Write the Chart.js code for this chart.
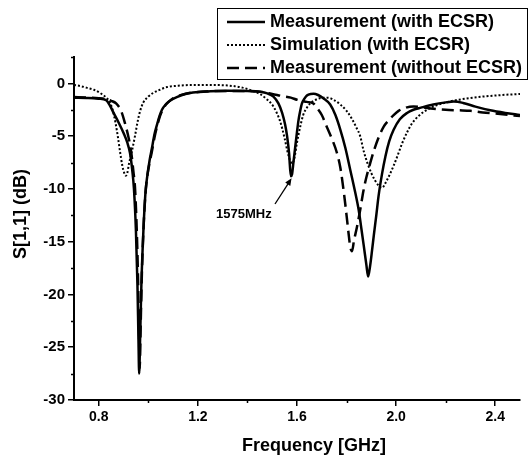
<!DOCTYPE html>
<html><head><meta charset="utf-8">
<script src="https://cdn.jsdelivr.net/npm/chart.js@4/dist/chart.umd.min.js"></script>
<style>html,body{margin:0;padding:0;background:#fff}#c{display:block}</style>
</head><body>
<canvas id="c" width="530" height="457"></canvas>
<script>
// ---- data ----
const seriesLabels = ['Measurement (with ECSR)', 'Simulation (with ECSR)', 'Measurement (without ECSR)'];

const freqMeasECSR = [0.70,0.75,0.80,0.83,0.845,0.86,0.88,0.90,0.915,0.926,0.935,0.942,0.950,0.956,0.960,0.963,0.967,0.972,0.980,0.988,0.994,1.005,1.014,1.025,1.034,1.045,1.055,1.07,1.09,1.115,1.15,1.18,1.25,1.32,1.40,1.45,1.48,1.505,1.525,1.540,1.552,1.560,1.568,1.575,1.580,1.586,1.593,1.600,1.606,1.613,1.620,1.630,1.640,1.655,1.667,1.685,1.706,1.734,1.755,1.775,1.795,1.815,1.832,1.849,1.860,1.869,1.880,1.887,1.895,1.903,1.910,1.920,1.929,1.943,1.957,1.972,1.990,2.015,2.044,2.070,2.10,2.15,2.20,2.233,2.27,2.32,2.38,2.44,2.50];
const dbMeasECSR   = [-1.35,-1.38,-1.45,-1.6,-2.1,-2.8,-3.7,-4.7,-5.6,-6.6,-8.2,-10.0,-14,-19,-24,-27.5,-24,-19,-14,-10.5,-9.1,-7.3,-6.2,-4.8,-4.0,-3.1,-2.5,-2.0,-1.6,-1.3,-1.0,-0.87,-0.75,-0.7,-0.72,-0.8,-0.95,-1.25,-1.9,-2.8,-3.9,-5.0,-6.6,-8.8,-8.6,-7.4,-6.0,-4.6,-3.5,-2.6,-1.9,-1.45,-1.15,-1.0,-0.98,-1.1,-1.4,-2.0,-3.0,-4.4,-6.1,-8.2,-10.0,-12.0,-13.8,-15.3,-17.2,-18.3,-17.3,-15.8,-14.4,-12.5,-10.7,-8.6,-6.9,-5.5,-4.4,-3.4,-2.8,-2.5,-2.3,-2.0,-1.8,-1.72,-1.85,-2.2,-2.55,-2.8,-3.0];

const freqSimECSR = [0.70,0.725,0.75,0.78,0.807,0.83,0.847,0.858,0.868,0.878,0.886,0.895,0.903,0.909,0.915,0.922,0.933,0.946,0.957,0.967,0.980,1.0,1.02,1.047,1.075,1.12,1.18,1.25,1.32,1.38,1.42,1.45,1.478,1.505,1.532,1.550,1.562,1.572,1.580,1.590,1.600,1.613,1.625,1.64,1.653,1.68,1.705,1.725,1.748,1.775,1.80,1.82,1.84,1.855,1.869,1.885,1.900,1.915,1.930,1.943,1.960,1.975,1.990,2.005,2.024,2.045,2.064,2.09,2.125,2.16,2.22,2.28,2.35,2.43,2.50];
const dbSimECSR   = [-0.15,-0.25,-0.4,-0.6,-0.93,-1.35,-1.9,-2.7,-3.8,-5.2,-6.5,-7.8,-8.5,-8.75,-8.5,-7.6,-6.5,-5.0,-3.6,-2.6,-1.8,-1.25,-0.9,-0.6,-0.35,-0.22,-0.15,-0.15,-0.2,-0.4,-0.7,-1.0,-1.5,-2.2,-3.6,-5.2,-6.5,-7.3,-7.6,-7.0,-5.6,-4.1,-3.0,-2.3,-1.9,-1.5,-1.35,-1.35,-1.56,-2.0,-2.6,-3.3,-4.2,-5.0,-6.4,-7.6,-8.5,-9.2,-9.7,-9.9,-9.3,-8.6,-7.8,-6.9,-5.7,-4.6,-3.8,-3.1,-2.5,-2.1,-1.7,-1.45,-1.25,-1.1,-1.0];

const freqMeasNoECSR = [0.70,0.75,0.80,0.83,0.85,0.87,0.89,0.906,0.918,0.926,0.933,0.940,0.946,0.952,0.958,0.962,0.965,0.969,0.974,0.982,0.990,0.997,1.006,1.014,1.025,1.035,1.047,1.06,1.075,1.095,1.12,1.15,1.20,1.30,1.40,1.45,1.50,1.54,1.575,1.60,1.64,1.666,1.68,1.70,1.72,1.74,1.76,1.775,1.79,1.80,1.810,1.815,1.822,1.830,1.842,1.855,1.868,1.880,1.895,1.910,1.930,1.950,1.970,1.990,2.01,2.04,2.07,2.10,2.15,2.20,2.25,2.30,2.35,2.42,2.50];
const dbMeasNoECSR   = [-1.3,-1.33,-1.4,-1.5,-1.65,-1.9,-2.6,-3.8,-4.9,-5.8,-6.9,-8.4,-9.8,-13,-18,-23,-27.0,-23,-18,-13,-10,-8.6,-7.4,-6.5,-5.1,-4.1,-3.1,-2.4,-1.9,-1.5,-1.2,-0.98,-0.82,-0.72,-0.72,-0.78,-1.0,-1.2,-1.35,-1.55,-1.75,-1.9,-2.3,-3.0,-4.1,-5.2,-6.5,-8.0,-10.5,-12.5,-14.6,-15.5,-15.9,-14.9,-13.6,-12.0,-10.2,-8.9,-7.6,-6.4,-5.1,-4.1,-3.5,-3.0,-2.6,-2.3,-2.2,-2.25,-2.4,-2.5,-2.55,-2.6,-2.75,-2.9,-3.1];

const xTickValues = [0.8, 1.2, 1.6, 2.0, 2.4];
const xMinorTicks = [1.0, 1.4, 1.8, 2.2];
const yTickValues = [-30, -25, -20, -15, -10, -5, 0];
const yMinorTicks = [-27.5, -22.5, -17.5, -12.5, -7.5, -2.5, 2.5];
const xTitle = 'Frequency [GHz]';
const yTitle = 'S[1,1] (dB)';
const annText = '1575MHz';

// ---- chart ----
const FONT = '"Liberation Sans", Arial, Helvetica, sans-serif';
const toXY = (xs, ys) => xs.map((v, i) => ({x: v, y: ys[i]}));

const overlay = {
  id: 'overlay',
  afterDraw(chart) {
    const {ctx, scales: {x, y}, chartArea: a} = chart;
    ctx.save();
    ctx.strokeStyle = '#000'; ctx.fillStyle = '#000';
    ctx.lineWidth = 1.5; ctx.setLineDash([]);
    ctx.beginPath();
    yMinorTicks.forEach(v => { const p = Math.round(y.getPixelForValue(v)) + 0.5; ctx.moveTo(a.left - 3, p); ctx.lineTo(a.left, p); });
    xMinorTicks.forEach(v => { const p = Math.round(x.getPixelForValue(v)) + 0.5; ctx.moveTo(p, a.bottom); ctx.lineTo(p, a.bottom + 3); });
    ctx.stroke();

    // axis titles
    ctx.font = 'bold 18px ' + FONT;
    ctx.textAlign = 'center'; ctx.textBaseline = 'alphabetic';
    ctx.fillText(xTitle, 314, 451);
    ctx.save(); ctx.translate(26, 214); ctx.rotate(-Math.PI / 2); ctx.fillText(yTitle, 0, 0); ctx.restore();

    // annotation
    ctx.font = 'bold 13px ' + FONT;
    ctx.textAlign = 'left'; ctx.textBaseline = 'middle';
    ctx.fillText(annText, 216, 214);
    const tx = x.getPixelForValue(1.578), ty = y.getPixelForValue(-9.0);
    const sx = 275, sy = 204;
    const ang = Math.atan2(ty - sy, tx - sx);
    ctx.lineWidth = 1.3;
    ctx.beginPath(); ctx.moveTo(sx, sy); ctx.lineTo(tx - 5 * Math.cos(ang), ty - 5 * Math.sin(ang)); ctx.stroke();
    ctx.beginPath();
    ctx.moveTo(tx, ty);
    ctx.lineTo(tx - 7 * Math.cos(ang) + 3 * Math.sin(ang), ty - 7 * Math.sin(ang) - 3 * Math.cos(ang));
    ctx.lineTo(tx - 7 * Math.cos(ang) - 3 * Math.sin(ang), ty - 7 * Math.sin(ang) + 3 * Math.cos(ang));
    ctx.closePath(); ctx.fill();

    // legend
    ctx.lineWidth = 1;
    ctx.strokeRect(217.5, 8.5, 310, 71);
    const rows = [22, 45, 68];
    ctx.font = 'bold 18px ' + FONT;
    chart.data.datasets.forEach((ds, i) => {
      ctx.beginPath();
      ctx.lineWidth = ds.borderWidth;
      ctx.setLineDash(ds.borderDash || []);
      ctx.moveTo(227, rows[i]); ctx.lineTo(265, rows[i]); ctx.stroke();
      ctx.setLineDash([]);
      ctx.fillText(ds.label, 270, rows[i]);
    });
    ctx.restore();
  }
};

new Chart(document.getElementById('c'), {
  type: 'line',
  data: {
    datasets: [
      {label: seriesLabels[0], data: toXY(freqMeasECSR, dbMeasECSR), borderColor: '#000', borderWidth: 2.5, borderDash: []},
      {label: seriesLabels[1], data: toXY(freqSimECSR, dbSimECSR), borderColor: '#000', borderWidth: 2, borderDash: [2, 2]},
      {label: seriesLabels[2], data: toXY(freqMeasNoECSR, dbMeasNoECSR), borderColor: '#000', borderWidth: 2.5, borderDash: [12, 6]}
    ]
  },
  options: {
    responsive: false,
    animation: false,
    devicePixelRatio: 1,
    layout: {padding: {top: 57, right: 10, left: 0, bottom: 0}},
    elements: {point: {radius: 0}, line: {tension: 0, cubicInterpolationMode: 'monotone', fill: false}},
    plugins: {legend: {display: false}, tooltip: {enabled: false}},
    scales: {
      x: {
        type: 'linear', min: 0.7, max: 2.5,
        afterBuildTicks: s => { s.ticks = xTickValues.map(v => ({value: v})); },
        afterFit: s => { s.height = 57; },
        grid: {drawOnChartArea: false, drawTicks: true, tickLength: 6, color: '#000', lineWidth: 1.5},
        border: {display: true, color: '#000', width: 2},
        ticks: {color: '#000', font: {family: FONT, size: 14, weight: 'bold'}, padding: 3, maxRotation: 0,
                callback: v => Number(v).toFixed(1)}
      },
      y: {
        type: 'linear', min: -30, max: 2.5,
        afterBuildTicks: s => { s.ticks = yTickValues.map(v => ({value: v})); },
        afterFit: s => { s.width = 74; },
        grid: {drawOnChartArea: false, drawTicks: true, tickLength: 6, color: '#000', lineWidth: 1.5},
        border: {display: true, color: '#000', width: 2},
        ticks: {color: '#000', font: {family: FONT, size: 15, weight: 'bold'}, padding: 3,
                callback: v => String(v)}
      }
    }
  },
  plugins: [overlay]
});
</script></body></html>
